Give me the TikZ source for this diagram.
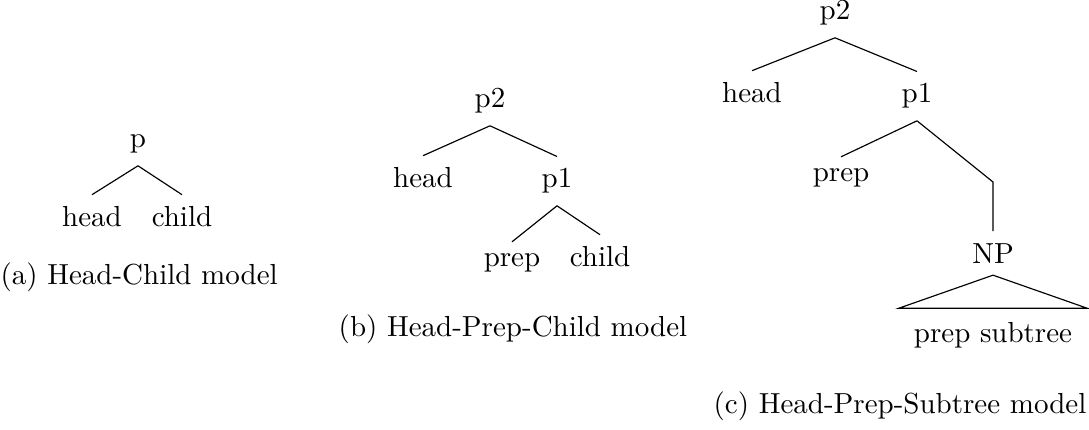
\documentclass[tikz,border=0pt]{standalone}
\begin{document}
\begin{tikzpicture}[x=0.3448pt,y=-0.3448pt,
  tn/.style={inner xsep=2pt, inner ysep=4pt, anchor=base},
  roofnode/.style={inner xsep=5pt, inner ysep=4.5pt, anchor=base},
  capt/.style={inner sep=0pt},
  edge/.style={line width=0.4pt}]
\useasboundingbox (0,0) rectangle (1089,430);
% (a)
\node[tn] (ap) at (138,148) {p};
\node[tn] (ah) at (92,227) {head};
\node[tn] (ac) at (182,227) {child};
\draw[edge] (ap.south) -- (ah.north);
\draw[edge] (ap.south) -- (ac.north);
\node[capt, anchor=base west] (acap) at (0,285) {(a) Head-Child model};
% (b)
\node[tn] (bp2) at (490,108) {p2};
\node[tn] (bh) at (423,188) {head};
\node[tn] (bp1) at (557,188) {p1};
\node[tn] (bpr) at (512,267) {prep};
\node[tn] (bc) at (600,267) {child};
\draw[edge] (bp2.south) -- (bh.north);
\draw[edge] (bp2.south) -- (bp1.north);
\draw[edge] (bp1.south) -- (bpr.north);
\draw[edge] (bp1.south) -- (bc.north);
\node[capt, anchor=base] (bcap) at (513,337) {(b) Head-Prep-Child model};
% (c)
\node[tn] (cp2) at (835,20) {p2};
\node[tn] (ch) at (752,103) {head};
\node[tn] (cp1) at (917,103) {p1};
\node[tn] (cpr) at (841,182) {prep};
\coordinate (cb) at (993,182);
\node[tn] (cnp) at (993,263) {NP};
\node[roofnode] (csub) at (993,342) {prep subtree};
\draw[edge] (cp2.south) -- (ch.north);
\draw[edge] (cp2.south) -- (cp1.north);
\draw[edge] (cp1.south) -- (cpr.north);
\draw[edge] (cp1.south) -- (cb) -- (cnp.north);
\draw[edge] (cnp.south) -- (csub.north east) -- (csub.north west) -- cycle;
\node[capt, anchor=base east] (ccap) at (1087,414) {(c) Head-Prep-Subtree model};
\end{tikzpicture}
\end{document}
